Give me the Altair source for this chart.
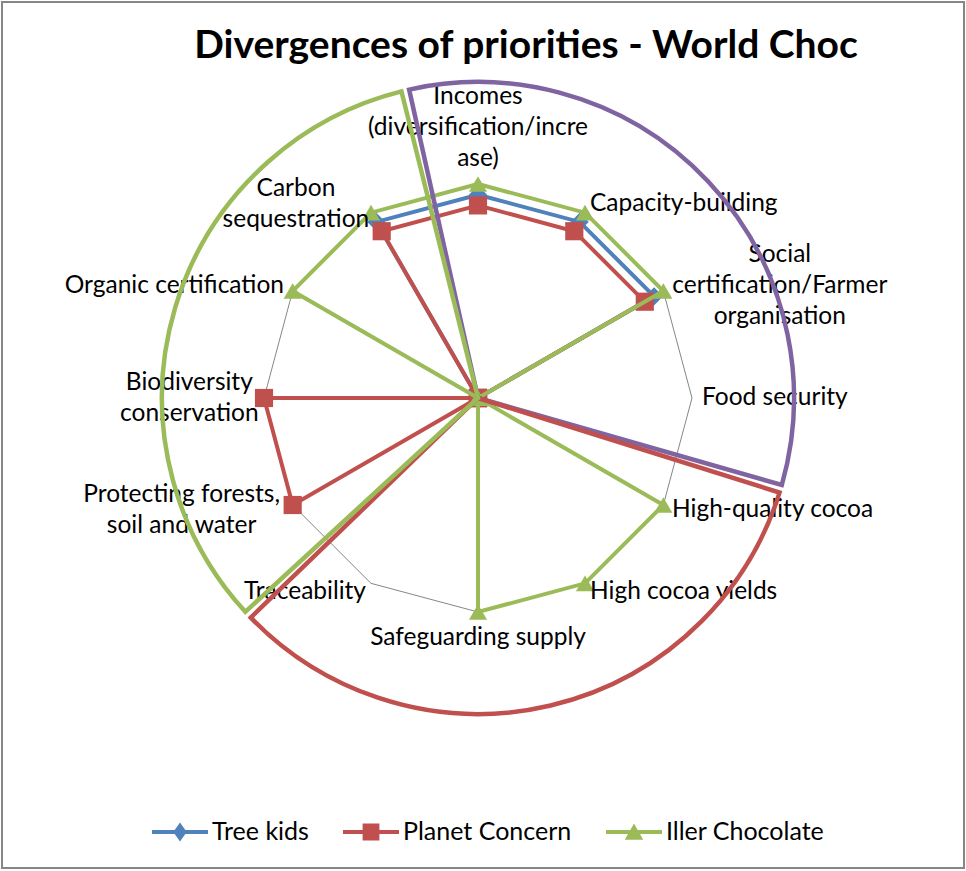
import math

import altair as alt
import pandas as pd

# Radar axes, clockwise from 12 o'clock
categories = [
    "Incomes\n(diversification/incre\nase)",
    "Capacity-building",
    "Social\ncertification/Farmer\norganisation",
    "Food security",
    "High-quality cocoa",
    "High cocoa yields",
    "Safeguarding supply",
    "Traceability",
    "Protecting forests,\nsoil and water",
    "Biodiversity\nconservation",
    "Organic certification",
    "Carbon\nsequestration",
]

tree_kids = [9.5, 9.5, 9.5, 0, 0, 0, 0, 0, 0, 0, 0, 9.5]
planet_concern = [9, 9, 9, 0, 0, 0, 0, 0, 10, 10, 0, 9]
iller_chocolate = [10, 10, 10, 0, 10, 10, 10, 0, 0, 0, 10, 10]

series_names = ["Tree kids", "Planet Concern", "Iller Chocolate"]
series_colors = ["#4F81BD", "#C0504D", "#9BBB59"]
series_markers = ["diamond", "square", "triangle-up"]
axis_max = 10

# Three equal sectors grouping the priorities
clusters = ["Livelihoods", "Supply", "Environment"]
cluster_share = [1, 1, 1]
cluster_colors = ["#8064A2", "#C0504D", "#9BBB59"]

title_text = "Divergences of priorities - World Choc"

# ---------------------------------------------------------------- layout
FONT = "Lato"
N = len(categories)
PLOT_W, PLOT_H = 962, 866
UNIT = 214            # pixels for a full-scale radius
CX, CY = 476, 396     # radar centre inside the plot area
LABEL_SIZE = 24.5
LEGEND_SIZE = 25
LINE_H = 31
GAP = 10
CHAR_W = 0.44 * LABEL_SIZE
SECTOR_RADIUS = 316
SECTOR_START = math.radians(-13.3)

x_scale = alt.Scale(domain=[-CX / UNIT, (PLOT_W - CX) / UNIT], nice=False, zero=False)
y_scale = alt.Scale(domain=[-(PLOT_H - CY) / UNIT, CY / UNIT], nice=False, zero=False)
X = alt.X("px:Q", scale=x_scale, axis=None)
Y = alt.Y("py:Q", scale=y_scale, axis=None)
X0 = alt.XDatum(0, type="quantitative", scale=x_scale, axis=None)
Y0 = alt.YDatum(0, type="quantitative", scale=y_scale, axis=None)

color_scale = alt.Scale(domain=series_names, range=series_colors)

# ---------------------------------------------------------------- data tables
rows = []
for name, vals in zip(series_names, [tree_kids, planet_concern, iller_chocolate]):
    for i in range(N + 1):  # repeat the first axis to close the polygon
        rows.append({"series": name, "idx": i, "value": vals[i % N]})
radar = pd.DataFrame(rows)

grid = pd.DataFrame({"idx": list(range(N + 1)), "value": [axis_max] * (N + 1)})

labels = pd.DataFrame({"label": categories, "idx": list(range(N))})
labels["nlines"] = labels["label"].str.count("\n") + 1
labels["chars"] = labels["label"].map(lambda s: max(len(p) for p in s.split("\n")))

sectors = pd.DataFrame({"cluster": clusters, "share": cluster_share, "pos": list(range(len(clusters)))})


def to_xy(chart):
    return chart.transform_calculate(
        ang=f"datum.idx * 2 * PI / {N}"
    ).transform_calculate(
        px=f"datum.value / {axis_max} * sin(datum.ang)",
        py=f"datum.value / {axis_max} * cos(datum.ang)",
    )


# ---------------------------------------------------------------- layers
layers = []

# legend source: line-with-marker glyph per series (tiny marks hidden under the hub)
legend_paths = [
    "M-1,-0.07L1,-0.07L1,0.07L-1,0.07Z M0,-0.34L0.24,0L0,0.34L-0.24,0Z",
    "M-1,-0.07L1,-0.07L1,0.07L-1,0.07Z M-0.3,-0.3L0.3,-0.3L0.3,0.3L-0.3,0.3Z",
    "M-1,-0.07L1,-0.07L1,0.07L-1,0.07Z M0,-0.3L0.33,0.28L-0.33,0.28Z",
]
legend_def = alt.Legend(
    title=None, orient="none", legendX=150, legendY=802, direction="horizontal",
    symbolSize=3136, symbolStrokeWidth=0, symbolOpacity=1, labelFont=FONT,
    labelFontSize=LEGEND_SIZE, labelColor="black", labelOffset=4, labelLimit=0,
    columnPadding=34, padding=0,
)
layers.append(
    alt.Chart(pd.DataFrame({"series": series_names}))
    .mark_point(filled=True, size=20)
    .encode(
        x=X0,
        y=Y0,
        fill=alt.Fill("series:N", scale=alt.Scale(domain=series_names, range=series_colors),
                      legend=legend_def),
        shape=alt.Shape("series:N", scale=alt.Scale(domain=series_names, range=legend_paths),
                        legend=legend_def),
    )
)

layers.append(
    to_xy(alt.Chart(grid))
    .mark_line(color="#868686", strokeWidth=1)
    .encode(x=X, y=Y, order="idx:Q")
)

for name, marker in zip(series_names, series_markers):
    base = to_xy(alt.Chart(radar).transform_filter(alt.datum.series == name))
    color = alt.Color("series:N", scale=color_scale, legend=None)
    layers.append(
        base.mark_line(strokeWidth=4).encode(x=X, y=Y, color=color, order="idx:Q")
    )
    layers.append(
        base.transform_filter(alt.datum.idx < N)
        .mark_point(filled=True, shape=marker, size=330, opacity=1)
        .encode(x=X, y=Y, color=color)
    )

# axis labels placed just outside the outer ring
lab = alt.Chart(labels).transform_calculate(
    ang=f"datum.idx * 2 * PI / {N}"
).transform_calculate(
    s="sin(datum.ang)", c="cos(datum.ang)"
).transform_calculate(
    side="datum.s > 0.1 ? 1 : (datum.s < -0.1 ? -1 : 0)"
).transform_calculate(
    px=(
        f"(1 + {GAP / UNIT}) * datum.s + "
        f"(datum.nlines > 1 && datum.side != 0 ? datum.side * datum.chars * {CHAR_W / 2 / UNIT} : 0)"
    ),
    py=(
        f"(1 + {GAP / UNIT}) * datum.c + "
        f"(datum.side != 0 ? (datum.nlines - 1) / 2 * {LINE_H / UNIT} : "
        f"(datum.c > 0 ? ({LINE_H / 2} + (datum.nlines - 1) * {LINE_H}) / {UNIT} : {-LINE_H / 2 / UNIT}))"
    ),
)
text_style = dict(font=FONT, fontSize=LABEL_SIZE, color="black", baseline="middle",
                  lineBreak="\n", lineHeight=LINE_H)
layers.append(
    lab.transform_filter("datum.side == 1 && datum.nlines == 1")
    .mark_text(align="left", **text_style)
    .encode(x=X, y=Y, text="label:N")
)
layers.append(
    lab.transform_filter("datum.side == -1 && datum.nlines == 1")
    .mark_text(align="right", **text_style)
    .encode(x=X, y=Y, text="label:N")
)
layers.append(
    lab.transform_filter("datum.side == 0 || datum.nlines > 1")
    .mark_text(align="center", **text_style)
    .encode(x=X, y=Y, text="label:N")
)

# outlined sectors around the radar
layers.append(
    alt.Chart(sectors)
    .mark_arc(radius=SECTOR_RADIUS, fill="transparent", strokeWidth=4.5, padAngle=0.025)
    .encode(
        x=X0,
        y=Y0,
        theta=alt.Theta("share:Q", stack=True,
                        scale=alt.Scale(range=[SECTOR_START, SECTOR_START + 2 * math.pi])),
        order=alt.Order("pos:Q"),
        stroke=alt.Stroke("cluster:N", scale=alt.Scale(domain=clusters, range=cluster_colors),
                          legend=None),
    )
)

chart = (
    alt.layer(*layers)
    .properties(
        width=PLOT_W,
        height=PLOT_H,
        autosize=alt.AutoSizeParams(type="none"),
        padding={"left": 2, "top": 2, "right": 2, "bottom": 3},
        title=alt.Title(title_text, font=FONT, fontSize=39, fontWeight="bold", color="black",
                        anchor="middle", baseline="alphabetic", offset=0, dx=43, dy=95),
        background="white",
    )
    .configure_view(stroke="#868686", strokeWidth=2)
)

chart.save("out.html", embed_options={"renderer": "svg", "actions": False})
